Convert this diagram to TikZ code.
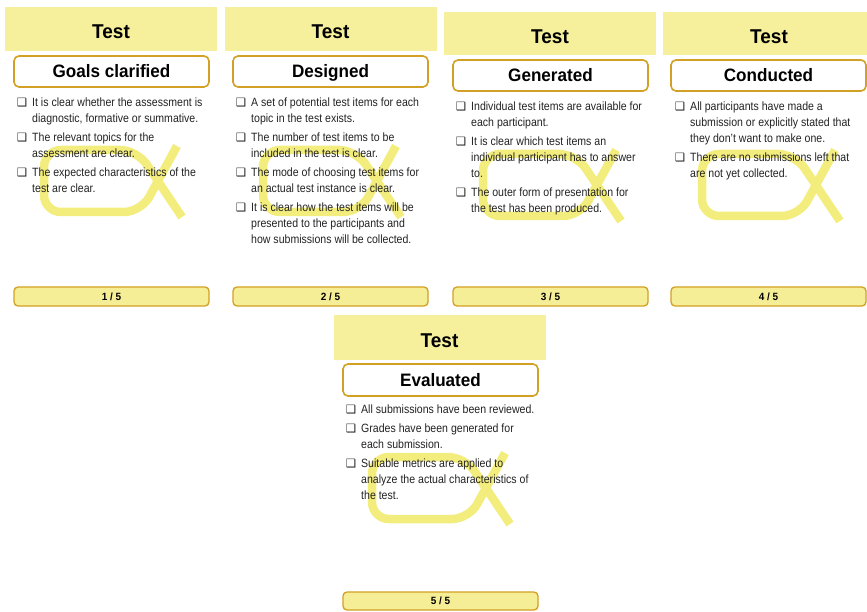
\documentclass[tikz,border=0pt]{standalone}
\usepackage{fontspec}
\newfontfamily\headfont[FakeStretch=0.95]{Liberation Sans}
\newfontfamily\bodyfont[FakeStretch=0.88]{Liberation Sans}
\newfontfamily\symfont{DejaVu Sans}

\definecolor{bandyellow}{RGB}{246,240,156}
\definecolor{baryellow}{RGB}{245,238,150}
\definecolor{goldline}{RGB}{210,160,36}
\definecolor{markyellow}{RGB}{243,237,125}
\definecolor{bodygray}{RGB}{34,34,34}

% checkbox hanging to the left of an item
\newcommand\chk{\llap{{\symfont\fontsize{11.5}{11.5}\selectfont ❑}\hspace{5pt}}}

\tikzset{
  header/.style={fill=bandyellow, inner sep=0pt, minimum width=212pt, minimum height=44pt,
    font=\headfont\bfseries\fontsize{20}{24}\selectfont, text height=19.3pt, text depth=0pt},
  stage/.style={draw=goldline, line width=1.6pt, fill=white, rounded corners=5pt,
    inner sep=0pt, minimum width=195pt, minimum height=31pt,
    font=\headfont\bfseries\fontsize{18}{22}\selectfont, text height=12.9pt, text depth=0pt},
  pagebar/.style={draw=goldline, line width=1.3pt, fill=baryellow, rounded corners=4pt,
    inner sep=0pt, minimum width=195pt, minimum height=19pt,
    font=\headfont\bfseries\fontsize{10.5}{12}\selectfont, text height=7.5pt, text depth=0pt},
  checklist/.style={anchor=north west, inner sep=0pt, align=left, text=bodygray,
    font=\bodyfont\fontsize{12}{16}\selectfont},
  alphastroke/.style={draw=markyellow, line width=8.5pt, rounded corners=17pt, line join=round},
  alphamark/.pic={\draw[alphastroke] (133,-4) -- (97,62) -- (0,62) -- (0,0) -- (93,0) -- (138,67);}
}

\begin{document}
\begin{tikzpicture}[x=1pt, y=-1pt]
\useasboundingbox (0,0) rectangle (867,612);

% faint alpha marks behind the checklists
\pic (w1) at (44,150) {alphamark};
\pic (w2) at (263,150) {alphamark};
\pic (w3) at (483,154) {alphamark};
\pic (w4) at (702,154) {alphamark};
\pic (w5) at (372,457) {alphamark};

% card 1
\node[header] (h1) at (111,29) {Test};
\node[stage] (s1) at (111.5,71.5) {Goals clarified};
\node[checklist] (b1) at (32,94.8) {\strut\chk It is clear whether the assessment is\\
  diagnostic, formative or summative.\\[3pt]
  \chk The relevant topics for the\\
  assessment are clear.\\[3pt]
  \chk The expected characteristics of the\\
  test are clear.};
\node[pagebar] (p1) at (111.5,296.5) {1 / 5};

% card 2
\node[header] (h2) at (330.5,29) {Test};
\node[stage] (s2) at (330.5,71.5) {Designed};
\node[checklist] (b2) at (251,94.8) {\strut\chk A set of potential test items for each\\
  topic in the test exists.\\[3pt]
  \chk The number of test items to be\\
  included in the test is clear.\\[3pt]
  \chk The mode of choosing test items for\\
  an actual test instance is clear.\\[3pt]
  \chk It is clear how the test items will be\\
  presented to the participants and\\
  how submissions will be collected.};
\node[pagebar] (p2) at (330.5,296.5) {2 / 5};

% card 3
\node[header, minimum height=43pt] (h3) at (550,33.5) {Test};
\node[stage] (s3) at (550.5,75.5) {Generated};
\node[checklist] (b3) at (471,98.8) {\strut\chk Individual test items are available for\\
  each participant.\\[3pt]
  \chk It is clear which test items an\\
  individual participant has to answer\\
  to.\\[3pt]
  \chk The outer form of presentation for\\
  the test has been produced.};
\node[pagebar] (p3) at (550.5,296.5) {3 / 5};

% card 4
\node[header, minimum height=43pt] (h4) at (769,33.5) {Test};
\node[stage] (s4) at (768.5,75.5) {Conducted};
\node[checklist] (b4) at (690,98.8) {\strut\chk All participants have made a\\
  submission or explicitly stated that\\
  they don’t want to make one.\\[3pt]
  \chk There are no submissions left that\\
  are not yet collected.};
\node[pagebar] (p4) at (768.5,296.5) {4 / 5};

% card 5
\node[header, minimum height=45pt] (h5) at (439.5,337.5) {Test};
\node[stage, minimum height=32pt] (s5) at (440.5,380) {Evaluated};
\node[checklist] (b5) at (361,401.8) {\strut\chk All submissions have been reviewed.\\[3pt]
  \chk Grades have been generated for\\
  each submission.\\[3pt]
  \chk Suitable metrics are applied to\\
  analyze the actual characteristics of\\
  the test.};
\node[pagebar, minimum height=18pt] (p5) at (440.5,601) {5 / 5};
\end{tikzpicture}
\end{document}
